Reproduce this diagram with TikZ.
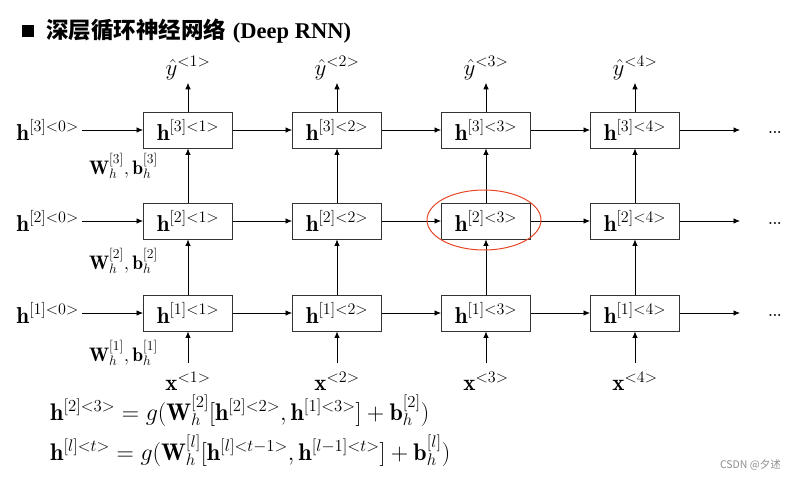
\RequirePackage{fix-cm}
\documentclass[tikz,border=0pt]{standalone}
\usepackage{fontspec}
\usetikzlibrary{arrows.meta}
\newfontfamily\cjk{Noto Sans CJK SC}
\newfontfamily\serifbold{Liberation Serif}
\definecolor{ringred}{RGB}{232,72,40}
\begin{document}
\begin{tikzpicture}[x=1pt,y=-1pt,
  cell/.style={draw=black!80, line width=0.9pt, minimum width=89pt, minimum height=36pt,
    inner sep=0pt, font=\fontsize{23}{27}\selectfont},
  lbl/.style={font=\fontsize{23}{27}\selectfont, inner sep=0pt},
  eqn/.style={font=\fontsize{24}{28}\selectfont, inner sep=0pt, anchor=base west},
  wlbl/.style={font=\fontsize{19.5}{23}\selectfont, inner sep=0pt, anchor=east},
  arr/.style={-{Latex[length=6.5pt,width=5.5pt]}, line width=0.8pt},
]
\useasboundingbox (0,0) rectangle (796,480);

% title
\fill (22,25) rectangle (34,37);
\node[anchor=west, inner sep=0pt, font=\fontsize{22.5}{26}\selectfont] (title) at (46,31)
  {{\cjk\bfseries 深层循环神经网络} {\serifbold\bfseries (Deep RNN)}};

% grid of hidden states
\foreach \t/\x in {1/188,2/337,3/486,4/635} {
  \foreach \l/\y in {1/313,2/221,3/130} {
    \node[cell] (h\l\t) at (\x,\y) {$\mathbf{h}^{[\l]<\t>}$};
  }
  \node[lbl] (y\t) at (\x,68) {$\hat{y}^{<\t>}$};
  \node[lbl] (x\t) at (\x,381) {$\mathbf{x}^{<\t>}$};
  \draw[arr, shorten >=3pt] (h3\t.north) -- (y\t.south);
  \draw[arr, shorten <=8pt] (x\t.north) -- (h1\t.south);
  \draw[arr] (h1\t.north) -- (h2\t.south);
  \draw[arr] (h2\t.north) -- (h3\t.south);
}

% initial states, weights, horizontal links
\foreach \l/\y/\wy in {1/313/353,2/221/261,3/130/166} {
  \node[lbl, anchor=east] (h\l0) at (79,\y) {$\mathbf{h}^{[\l]<0>}$};
  \node[wlbl] (w\l) at (158,\wy) {$\mathbf{W}_h^{[\l]},\mathbf{b}_h^{[\l]}$};
  \draw[arr, shorten <=3pt] (h\l0.east) -- (h\l1.west);
  \draw[arr] (h\l1.east) -- (h\l2.west);
  \draw[arr] (h\l2.east) -- (h\l3.west);
  \draw[arr] (h\l3.east) -- (h\l4.west);
  \coordinate (e\l) at (740,\y);
  \draw[arr] (h\l4.east) -- (e\l);
  \node[anchor=base, inner sep=0pt, font=\fontsize{14}{16}\selectfont\bfseries] (d\l) at (775,\y+3) {...};
}

% highlighted cell
\draw[ringred, line width=1pt] (484,220) ellipse [x radius=57, y radius=30];

% update equations
\node[eqn] (f1) at (50,420)
  {$\mathbf{h}^{[2]<3>} = g(\mathbf{W}_h^{[2]}[\mathbf{h}^{[2]<2>},\mathbf{h}^{[1]<3>}] + \mathbf{b}_h^{[2]})$};
\node[eqn] (f2) at (50,460)
  {$\mathbf{h}^{[l]<t>} = g(\mathbf{W}_h^{[l]}[\mathbf{h}^{[l]<t-1>},\mathbf{h}^{[l-1]<t>}] + \mathbf{b}_h^{[l]})$};

% watermark
\node[anchor=east, inner sep=0pt, text=black!45, font=\cjk\fontsize{10.5}{12}\selectfont] (wm) at (781,465) {CSDN @夕述};
\end{tikzpicture}
\end{document}
